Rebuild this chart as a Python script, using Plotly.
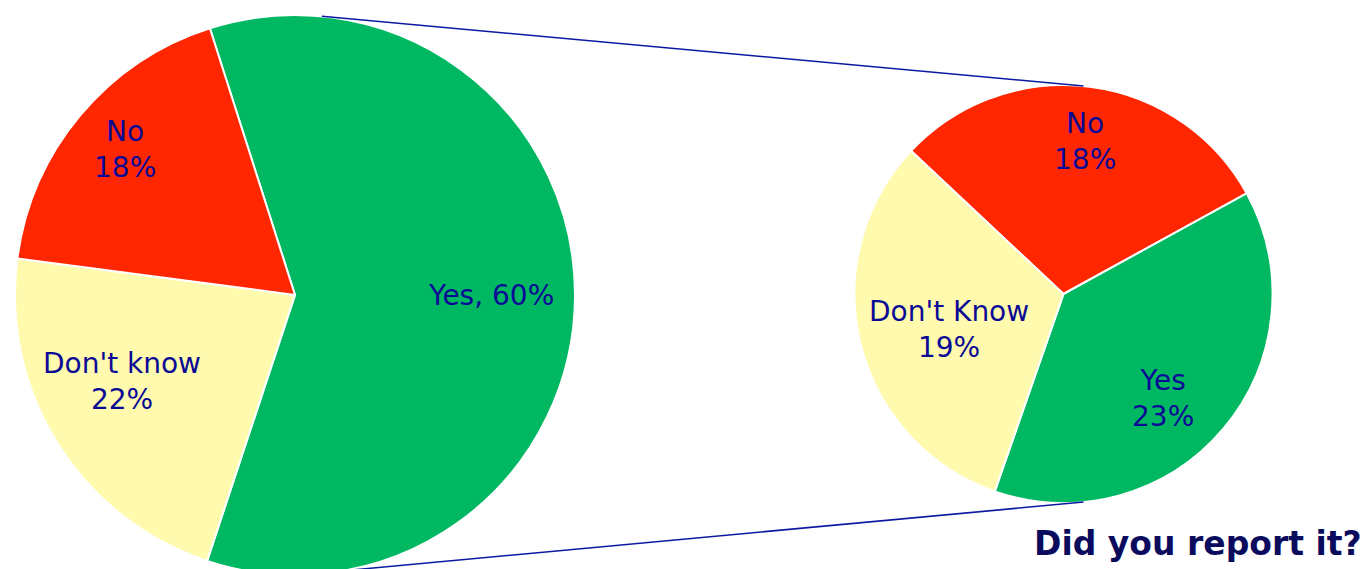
import math
import plotly.graph_objects as go

# Overall answers
main_labels = ["Yes", "Don't know", "No"]
main_values = [60, 22, 18]
main_text = ["Yes, 60%", "Don't know<br>22%", "No<br>18%"]

# Breakdown of the "Yes" share
sub_labels = ["No", "Yes", "Don't Know"]
sub_values = [18, 23, 19]
sub_text = ["No<br>18%", "Yes<br>23%", "Don't Know<br>19%"]

title_text = "Did you report it?"

# Colours
GREEN = "#00B862"
RED = "#FF2600"
YELLOW = "#FFFAAD"
main_colors = [GREEN, YELLOW, RED]
sub_colors = [RED, GREEN, YELLOW]
LABEL_COLOR = "#0A0A96"
TITLE_COLOR = "#0B0B5E"
LINK_COLOR = "#0A1AA0"

W, H = 1366, 590

# Pie geometry in pixels (centre x, centre y, radius) and start rotation
MAIN = dict(cx=295, cy=295, r=280, rot=-17.7)
SUB = dict(cx=1063.5, cy=294, r=209, rot=-46.8)

# Label placement: (angle clockwise from 12 o'clock, fraction of radius)
main_label_pos = [(90, 0.70), (243.3, 0.69), (310.5, 0.80)]
sub_label_pos = [(8.0, 0.735), (136.4, 0.69), (253.0, 0.573)]

# Angles where the connector lines meet each circle: (main, sub)
LINK_ANGLES = [(5.5, 5.5), (170.0, 174.5)]


def domain(g):
    return dict(
        x=[(g["cx"] - g["r"]) / W, (g["cx"] + g["r"]) / W],
        y=[(H - (g["cy"] + g["r"])) / H, (H - (g["cy"] - g["r"])) / H],
    )


def polar_px(g, angle_deg, frac):
    a = math.radians(angle_deg)
    return g["cx"] + frac * g["r"] * math.sin(a), g["cy"] - frac * g["r"] * math.cos(a)


fig = go.Figure()
for g, labels, values, colors in [
    (MAIN, main_labels, main_values, main_colors),
    (SUB, sub_labels, sub_values, sub_colors),
]:
    fig.add_trace(go.Pie(
        labels=labels,
        values=values,
        sort=False,
        direction="clockwise",
        rotation=g["rot"],
        marker=dict(colors=colors, line=dict(color="white", width=2)),
        textinfo="none",
        hoverinfo="label+percent",
        domain=domain(g),
        showlegend=False,
    ))

annotations = []
for g, texts, positions in [(MAIN, main_text, main_label_pos), (SUB, sub_text, sub_label_pos)]:
    for t, (ang, frac) in zip(texts, positions):
        px, py = polar_px(g, ang, frac)
        annotations.append(dict(
            x=px / W, y=(H - py) / H, xref="paper", yref="paper",
            text=t, showarrow=False, xanchor="center", yanchor="middle",
            font=dict(family="DejaVu Sans", size=28, color=LABEL_COLOR),
        ))

annotations.append(dict(
    x=1364 / W, y=(H - 543) / H, xref="paper", yref="paper",
    text="<b>" + title_text + "</b>", showarrow=False,
    xanchor="right", yanchor="middle",
    font=dict(family="DejaVu Sans", size=33, color=TITLE_COLOR),
))

# Connector lines between the two pies
shapes = []
for a_main, a_sub in LINK_ANGLES:
    x0, y0 = polar_px(MAIN, a_main, 1.0)
    x1, y1 = polar_px(SUB, a_sub, 1.0)
    shapes.append(dict(
        type="line", xref="paper", yref="paper",
        x0=x0 / W, y0=(H - y0) / H, x1=x1 / W, y1=(H - y1) / H,
        line=dict(color=LINK_COLOR, width=1.6),
    ))

fig.update_layout(
    width=W, height=H,
    margin=dict(l=0, r=0, t=0, b=0),
    paper_bgcolor="white",
    plot_bgcolor="white",
    annotations=annotations,
    shapes=shapes,
)

fig.write_html(
    "out.html",
    config={"displayModeBar": False},
    post_script="document.documentElement.style.overflow='hidden';document.body.style.overflow='hidden';document.body.style.margin='0';",
)
